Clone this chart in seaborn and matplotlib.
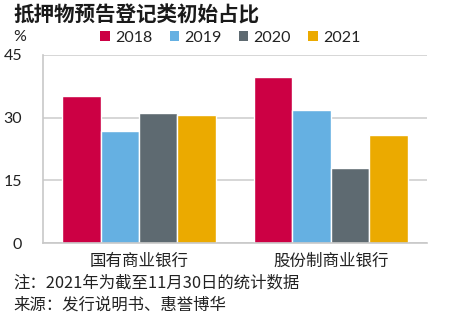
import matplotlib
matplotlib.use("Agg")
import matplotlib.pyplot as plt
import seaborn as sns
import pandas as pd
from matplotlib.patches import Patch

categories = ["国有商业银行", "股份制商业银行"]
years = ["2018", "2019", "2020", "2021"]
v2018 = [35.2, 39.6]
v2019 = [26.8, 31.7]
v2020 = [31.0, 17.9]
v2021 = [30.6, 25.9]
yticks = [0, 15, 30, 45]
colors = ["#CC0044", "#65B0E2", "#5E6A71", "#EBAA00"]

rows = []
for y, vals in zip(years, [v2018, v2019, v2020, v2021]):
    for c, v in zip(categories, vals):
        rows.append({"cat": c, "year": y, "val": v})
df = pd.DataFrame(rows)

sns.set_theme(style="white")
plt.rcParams["font.family"] = ["Lato", "Noto Sans CJK SC", "DejaVu Sans"]
cjk = ["Noto Sans CJK SC", "DejaVu Sans"]

fig = plt.figure(figsize=(4.52, 3.36), dpi=100)
ax = fig.add_axes([43 / 452, 1 - 243.3 / 336, (426.7 - 43) / 452, (243.3 - 54.7) / 336])
sns.barplot(data=df, x="cat", y="val", hue="year", palette=colors, order=categories,
            hue_order=years, width=0.8, ax=ax, saturation=1, legend=False)

ax.set_ylim(0, 45)
ax.set_yticks(yticks)
ax.set_yticklabels([str(t) for t in yticks], fontsize=11.5, color="#222222")
ax.yaxis.grid(True, color="#D0D0D0", linewidth=1.2)
ax.set_axisbelow(True)
ax.set_xlabel("")
ax.set_ylabel("")
for lab in ax.get_xticklabels():
    lab.set_fontfamily(cjk)
    lab.set_fontsize(11.9)
    lab.set_color("#222222")
ax.tick_params(axis="x", length=0, pad=7)
ax.tick_params(axis="y", length=0, pad=15)
for s in ["top", "right"]:
    ax.spines[s].set_visible(False)
for s in ["left", "bottom"]:
    ax.spines[s].set_color("#C8C8C8")
    ax.spines[s].set_linewidth(1.2)
ax.set_xlim(-0.5, 1.5)

fig.text(13 / 452, 1 - 15 / 336, "抵押物预告登记类初始占比", fontsize=14.8, fontweight="bold",
         family=cjk, color="#1A1A1A", va="center", ha="left")
fig.text(20 / 452, 1 - 37 / 336, "%", fontsize=11.5, color="#222222", va="center", ha="center")

handles = [Patch(facecolor=c, edgecolor="none") for c in colors]
fig.legend(handles, years, loc="center left", bbox_to_anchor=(86 / 452, 1 - 38 / 336),
           ncol=4, frameon=False, fontsize=11.5, handlelength=0.6, handleheight=0.6,
           handletextpad=0.3, columnspacing=1.1, labelcolor="#222222")

fig.text(13 / 452, 1 - 283 / 336, "注：2021年为截至11月30日的统计数据", fontsize=11.8,
         family=cjk, color="#222222", va="center", ha="left")
fig.text(13 / 452, 1 - 305 / 336, "来源：发行说明书、惠誉博华", fontsize=11.8,
         family=cjk, color="#222222", va="center", ha="left")

fig.savefig("out.png", dpi=100)
